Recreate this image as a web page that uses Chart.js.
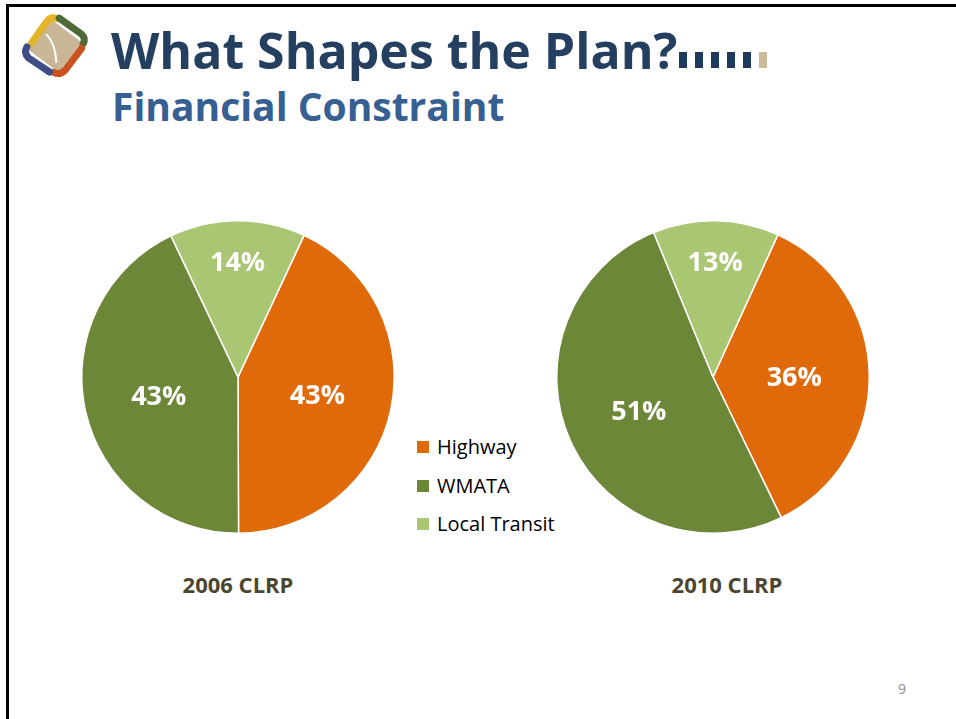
<!DOCTYPE html>
<html>
<head>
<meta charset="utf-8">
<script src="https://cdn.jsdelivr.net/npm/chart.js@4"></script>
<style>
  body { margin: 0; width: 956px; height: 719px; background: #fff; position: relative; overflow: hidden; font-family: "Open Sans", sans-serif; }
  .frame { position: absolute; left: 6px; top: 4px; width: 1000px; height: 800px; border-top: 3px solid #000; border-left: 3px solid #000; }
  .title { position: absolute; left: 111px; top: 16px; font-size: 50px; font-weight: bold; color: #243F60; white-space: nowrap; }
  .subtitle { position: absolute; left: 112px; top: 79px; font-size: 39px; font-weight: bold; color: #376092; white-space: nowrap; }
  .dot { position: absolute; top: 52px; width: 8px; height: 16px; background: #1F3A5F; }
  .pie { position: absolute; width: 314px; height: 314px; }
  .caption { position: absolute; top: 569px; width: 200px; text-align: center; font-size: 22px; font-weight: bold; color: #4B4630; }
  .legend { position: absolute; left: 417px; top: 433px; }
  .legend div { height: 38.5px; font-size: 20px; color: #000; white-space: nowrap; }
  .legend span { display: inline-block; width: 12px; height: 12px; margin-right: 8px; vertical-align: 1px; }
  .page { position: absolute; left: 898px; top: 679px; font-size: 14px; color: #8C8C8C; }
</style>
</head>
<body>
<div class="frame"></div>
<svg style="position:absolute;left:0;top:0" width="110" height="100">
  <g transform="rotate(-8 55 46)">
    <rect x="36" y="27" width="38" height="38" rx="3" fill="#C9B696" transform="rotate(45 55 46)"/>
    <path d="M32 40 L50 21 Q55 16 60 19" stroke="#E2B527" stroke-width="7" fill="none" stroke-linecap="round"/>
    <path d="M63 19 L83 38 Q87 43 83 48" stroke="#4F6A36" stroke-width="7" fill="none" stroke-linecap="round"/>
    <path d="M81 52 L62 71 Q56 76 50 72" stroke="#C9521F" stroke-width="7" fill="none" stroke-linecap="round"/>
    <path d="M46 71 L27 54 Q23 48 27 43" stroke="#3F4C86" stroke-width="7" fill="none" stroke-linecap="round"/>
    <path d="M48 33 Q56 44 54 63" stroke="#fff" stroke-width="2" fill="none"/>
  </g>
</svg>
<div class="title">What Shapes the Plan?</div>
<div class="dot" style="left:679px"></div>
<div class="dot" style="left:695px"></div>
<div class="dot" style="left:711px"></div>
<div class="dot" style="left:727px"></div>
<div class="dot" style="left:743px"></div>
<div class="dot" style="left:759px;background:#C8BD98"></div>
<div class="subtitle">Financial Constraint</div>

<div class="pie" style="left:81px;top:220px"><canvas id="chart2006"></canvas></div>
<div class="pie" style="left:556px;top:220px"><canvas id="chart2010"></canvas></div>
<div class="legend" id="legend"></div>
<div class="caption" style="left:138px">2006 CLRP</div>
<div class="caption" style="left:627px">2010 CLRP</div>
<div class="page">9</div>

<script>
const categories = ['Highway', 'WMATA', 'Local Transit'];
const values2006 = [43, 43, 14];
const values2010 = [36, 51, 13];
const sliceColors = ['#E06A0A', '#6B8737', '#A9C672'];

// legend built from the categories
const legendEl = document.getElementById('legend');
categories.forEach((c, i) => {
  const row = document.createElement('div');
  row.innerHTML = '<span style="background:' + sliceColors[i] + '"></span>' + c;
  legendEl.appendChild(row);
});

// percent labels inside the slices
const pieLabels = {
  id: 'pieLabels',
  afterDatasetsDraw(chart) {
    const ctx = chart.ctx;
    const meta = chart.getDatasetMeta(0);
    const vals = chart.data.datasets[0].data;
    ctx.save();
    ctx.font = 'bold 27px "Open Sans"';
    ctx.fillStyle = '#fff';
    ctx.textAlign = 'center';
    ctx.textBaseline = 'middle';
    meta.data.forEach((arc, i) => {
      const p = arc.getProps(['x', 'y', 'startAngle', 'endAngle', 'outerRadius'], true);
      const mid = (p.startAngle + p.endAngle) / 2;
      const f = vals[i] < 20 ? 0.74 : 0.52;
      ctx.fillText(vals[i] + '%', p.x + Math.cos(mid) * p.outerRadius * f, p.y + Math.sin(mid) * p.outerRadius * f + 2);
    });
    ctx.restore();
  }
};

function makePie(id, values, rotation) {
  return new Chart(document.getElementById(id), {
    type: 'pie',
    data: {
      labels: categories,
      datasets: [{
        data: values,
        backgroundColor: sliceColors,
        borderColor: '#fff',
        borderWidth: 1.5
      }]
    },
    options: {
      responsive: true,
      maintainAspectRatio: false,
      animation: false,
      rotation: rotation,
      layout: { padding: 0 },
      plugins: { legend: { display: false }, tooltip: { enabled: false } }
    },
    plugins: [pieLabels]
  });
}

const chart2006 = makePie('chart2006', values2006, 25);
const chart2010 = makePie('chart2010', values2010, 24.5);
</script>
</body>
</html>
